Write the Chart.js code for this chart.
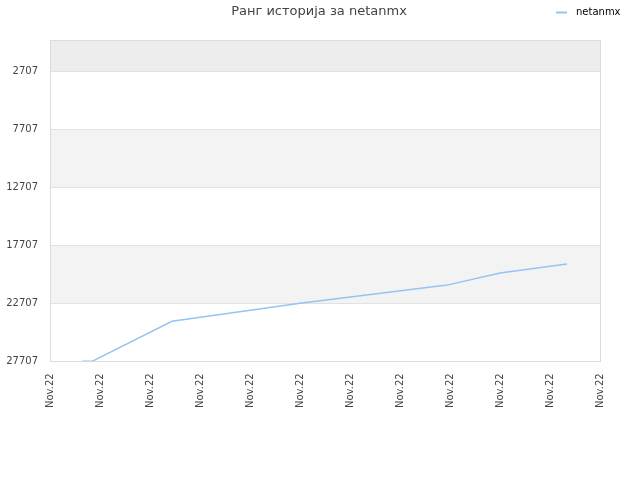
<!DOCTYPE html>
<html>
<head>
<meta charset="utf-8">
<script src="https://cdn.jsdelivr.net/npm/chart.js@4/dist/chart.umd.min.js"></script>
<style>
  html, body { margin: 0; padding: 0; background: #fff; }
  #wrap { width: 640px; height: 480px; }
</style>
</head>
<body>
<div id="wrap"><canvas id="rankChart" width="640" height="480"></canvas></div>
<script>
// rank history (x = tick index position, y = rank)
const seriesName = 'netanmx';
const pointX = [0.64, 0.84, 2.44, 5.0, 7.94, 9.0, 10.34];
const rankValues = [27707, 27707, 24247, 22690, 21133, 20095, 19317];
const yTicks = [2707, 7707, 12707, 17707, 22707, 27707];
const xTickLabels = ['Nov.22', 'Nov.22', 'Nov.22', 'Nov.22', 'Nov.22', 'Nov.22',
                     'Nov.22', 'Nov.22', 'Nov.22', 'Nov.22', 'Nov.22', 'Nov.22'];
const titleText = 'Ранг историја за netanmx';

const FONT = "'DejaVu Sans', Verdana, sans-serif";
const LINE_COLOR = '#96c4f2';

// grey bands behind the plot, outer border, title and legend
const bandsPlugin = {
    id: 'bands',
    beforeDatasetsDraw(chart) {
        const { ctx, chartArea: a, scales: { y } } = chart;
        ctx.save();
        // top band above the first tick
        const t0 = y.getPixelForValue(yTicks[0]);
        ctx.fillStyle = '#ededed';
        ctx.fillRect(a.left, a.top, a.right - a.left, t0 - a.top);
        ctx.fillStyle = '#f3f3f3';
        for (let i = 1; i < yTicks.length - 1; i += 2) {
            const p1 = y.getPixelForValue(yTicks[i]);
            const p2 = y.getPixelForValue(yTicks[i + 1]);
            ctx.fillRect(a.left, p1, a.right - a.left, p2 - p1);
        }
        ctx.strokeStyle = '#e2e2e2';
        ctx.lineWidth = 1;
        yTicks.forEach(v => {
            const p = Math.round(y.getPixelForValue(v)) + 0.5;
            ctx.beginPath(); ctx.moveTo(a.left, p); ctx.lineTo(a.right, p); ctx.stroke();
        });
        ctx.strokeStyle = '#dcdcdc';
        ctx.strokeRect(Math.round(a.left) + 0.5, Math.round(a.top) + 0.5,
                       Math.round(a.right - a.left), Math.round(a.bottom - a.top));
        ctx.restore();
    },
    afterDraw(chart) {
        const ctx = chart.ctx;
        ctx.save();
        ctx.font = '13px ' + FONT;
        ctx.fillStyle = '#444';
        ctx.textAlign = 'center';
        ctx.textBaseline = 'middle';
        ctx.fillText(titleText, 319, 12);
        // legend
        ctx.strokeStyle = LINE_COLOR;
        ctx.lineWidth = 2;
        ctx.beginPath(); ctx.moveTo(556, 12.5); ctx.lineTo(567, 12.5); ctx.stroke();
        ctx.font = '10px ' + FONT;
        ctx.fillStyle = '#000';
        ctx.textAlign = 'left';
        ctx.fillText(chart.data.datasets[0].label, 576, 12);
        ctx.restore();
    }
};

new Chart(document.getElementById('rankChart'), {
    type: 'line',
    data: {
        datasets: [{
            label: seriesName,
            data: pointX.map((x, i) => ({ x: x, y: rankValues[i] })),
            borderColor: LINE_COLOR,
            backgroundColor: LINE_COLOR,
            borderWidth: 1.5,
            pointRadius: 0,
            tension: 0,
        }]
    },
    options: {
        responsive: false,
        animation: false,
        devicePixelRatio: 1,
        layout: { padding: { top: 40, right: 40, bottom: 68, left: 0 } },
        plugins: {
            title: { display: false },
            tooltip: { enabled: false },
            legend: { display: false }
        },
        scales: {
            x: {
                type: 'linear',
                min: 0,
                max: xTickLabels.length - 1,
                afterBuildTicks: s => { s.ticks = xTickLabels.map((_, i) => ({ value: i })); },
                ticks: {
                    autoSkip: false,
                    minRotation: 90,
                    maxRotation: 90,
                    color: '#444',
                    font: { family: FONT, size: 10 },
                    padding: 4,
                    callback: (v, i) => xTickLabels[i],
                },
                grid: { display: false },
                border: { display: false },
            },
            y: {
                reverse: true,
                min: 0,
                max: 27707,
                afterBuildTicks: s => { s.ticks = yTicks.map(v => ({ value: v })); },
                afterFit: s => { s.width = 50; },
                ticks: {
                    color: '#444',
                    font: { family: FONT, size: 10 },
                    padding: 4,
                    callback: v => String(v),
                },
                grid: { display: false },
                border: { display: false },
            }
        }
    },
    plugins: [bandsPlugin]
});
</script>
</body>
</html>
